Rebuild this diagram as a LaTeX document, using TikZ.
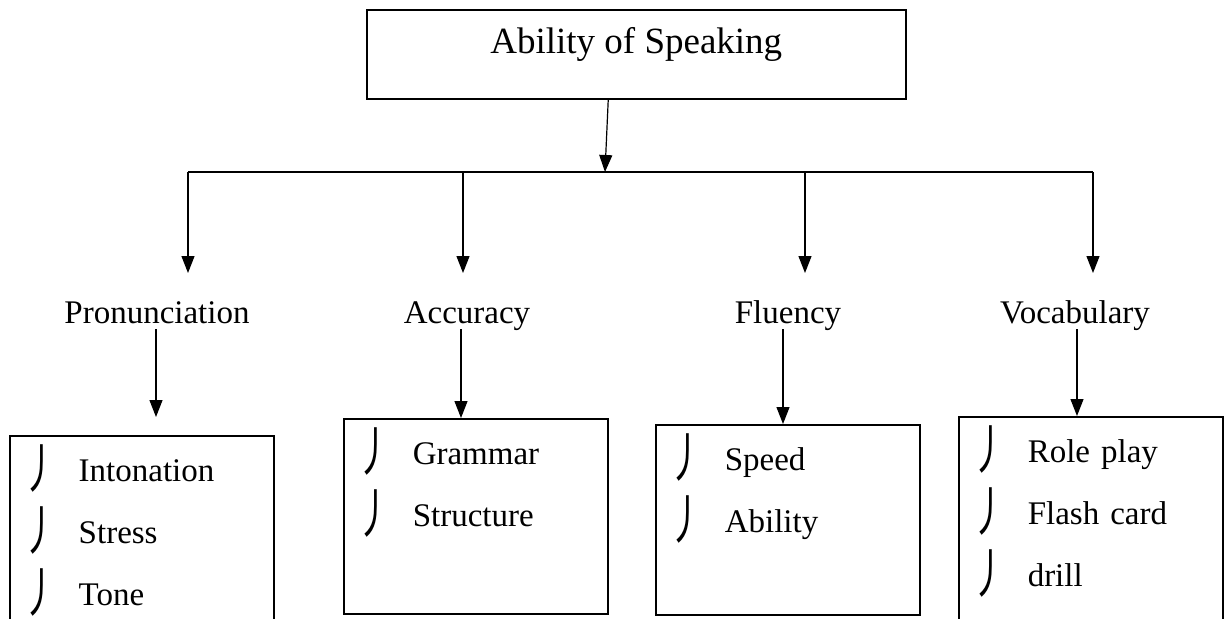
\documentclass[tikz,border=0pt]{standalone}
\usepackage{fontspec}
\setmainfont{Liberation Serif}
\newfontfamily\cjk{Noto Sans CJK SC}
\usetikzlibrary{arrows.meta}

\newcommand{\itm}{\makebox[0pt][c]{\raisebox{-3.5pt}{\scalebox{0.7}[1.12]{\cjk\fontsize{24}{24}\selectfont 丿}}}\hspace{19pt}}

\begin{document}
\begin{tikzpicture}[x=0.5pt, y=-0.5pt,
    arr/.style={-{Triangle[length=8.5pt,width=6.5pt]}, line width=0.6pt},
    titlebox/.style={draw, line width=0.75pt, anchor=north west, minimum width=269.5pt, inner sep=0pt,
        text height=22pt, text depth=22.5pt, font=\fontsize{18.5}{22}\selectfont},
    topic/.style={anchor=base, inner xsep=2pt, inner ysep=3pt, text depth=0pt, font=\fontsize{16.5}{20}\selectfont},
    listbox/.style={draw, line width=0.75pt, anchor=north west, align=left, text width=101pt,
        inner xsep=15.5pt, inner ysep=0pt, text height=23pt, font=\fontsize{16.5}{31}\selectfont}]
    \useasboundingbox (0,0) rectangle (1227,618);
    \clip (0,0) rectangle (1227,618);

    \node (speaking) [titlebox] at (366,9) {Ability of Speaking};

    \node (pron) [topic] at (157,323) {Pronunciation};
    \node (accu) [topic] at (467,323) {Accuracy};
    \node (flue) [topic] at (788,323) {Fluency};
    \node (voca) [topic] at (1075,323) {Vocabulary};

    \node (pronbox) [listbox, text depth=100pt] at (9,435) {\itm Intonation\\ \itm Stress\\ \itm Tone};
    \node (accubox) [listbox, text depth=74.5pt] at (343,418) {\itm Grammar\\ \itm Structure};
    \node (fluebox) [listbox, text depth=72pt] at (655,424) {\itm Speed\\ \itm Ability};
    \node (vocabox) [listbox, text depth=100pt] at (958,416) {\itm Role play\\ \itm Flash card\\ \itm drill};

    \coordinate (hub) at (605,172);
    \coordinate (busL) at (188,172);
    \coordinate (busR) at (1093,172);
    \draw[arr] ([xshift=-14pt]speaking.south) -- (hub);
    \draw[line width=0.75pt] (busL) -- (busR);

    \foreach \n/\x in {pron/188, accu/463, flue/805, voca/1093} {
        \coordinate (\n top) at (\x,172);
        \coordinate (\n tip) at (\x,273);
        \draw[arr] (\n top) -- (\n tip);
    }

    \coordinate (pron in) at (156,417);
    \draw[arr] (pron.south -| pron in) -- (pron in);
    \draw[arr] (accu.south -| 461,0) -- (accubox.north -| 461,0);
    \draw[arr] (flue.south -| 783,0) -- (fluebox.north -| 783,0);
    \draw[arr] (voca.south -| 1077,0) -- (vocabox.north -| 1077,0);
\end{tikzpicture}
\end{document}
